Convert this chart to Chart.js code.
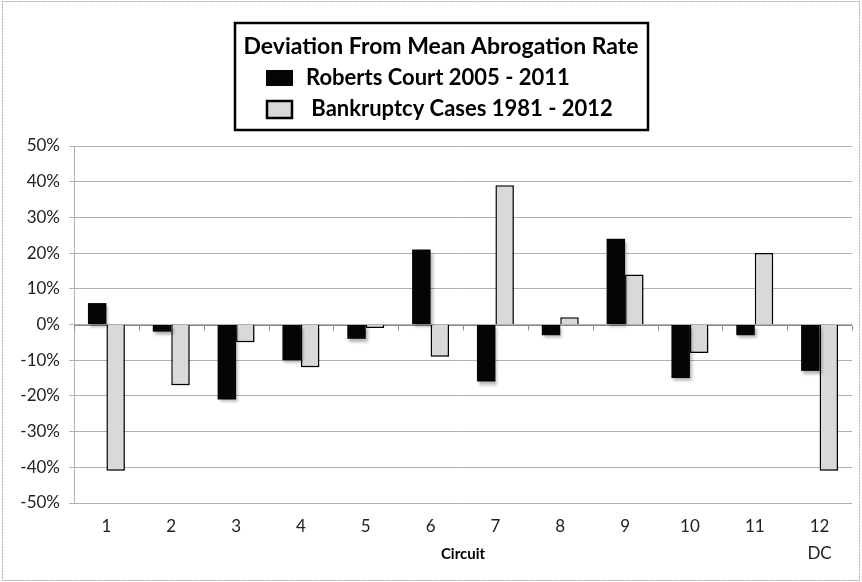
<!DOCTYPE html>
<html>
<head>
<meta charset="utf-8">
<script src="https://cdn.jsdelivr.net/npm/chart.js@4.4.1/dist/chart.umd.min.js"></script>
<style>
html, body { margin: 0; padding: 0; background: #fff; }
#wrap { width: 862px; height: 582px; position: relative; }
</style>
</head>
<body>
<div id="wrap"><canvas id="circuit_chart"></canvas></div>
<script>
// data (percent deviation from mean)
const circuit_labels = ['1', '2', '3', '4', '5', '6', '7', '8', '9', '10', '11', ['12', 'DC']];
const roberts_court = [6, -2, -21, -10, -4, 21, -16, -3, 24, -15, -3, -13];
const bankruptcy_cases = [-41, -17, -5, -12, -1, -9, 39, 2, 14, -8, 20, -41];
const series_names = ['Roberts Court 2005 - 2011', ' Bankruptcy Cases 1981 - 2012'];
const chart_title = 'Deviation From Mean Abrogation Rate';
const x_title = 'Circuit';

Chart.defaults.font.family = 'Lato, "Open Sans", sans-serif';
Chart.defaults.color = '#222';

// outer frame + boxed title/legend
const frame_and_legend = {
    id: 'frame_and_legend',
    afterDraw(chart) {
        let ctx = chart.ctx;
        ctx.save();
        // chart area frame
        ctx.strokeStyle = '#a8a8a8';
        ctx.lineWidth = 1;
        ctx.setLineDash([2, 1]);
        ctx.strokeRect(2.5, 1.5, chart.width - 5, chart.height - 3);
        ctx.setLineDash([]);
        // legend box
        ctx.fillStyle = '#fff';
        ctx.fillRect(235, 23, 413, 107);
        ctx.strokeStyle = '#000';
        ctx.lineWidth = 2.5;
        ctx.strokeRect(235, 23, 413, 107);
        ctx.fillStyle = '#000';
        ctx.textBaseline = 'middle';
        ctx.textAlign = 'center';
        ctx.font = 'bold 23px Lato';
        ctx.fillText(chart_title, 441, 47);
        ctx.textAlign = 'left';
        ctx.font = 'bold 22px Lato';
        let rows_y = [78, 109];
        chart.data.datasets.forEach(function (ds, i) {
            let y = rows_y[i];
            ctx.fillStyle = ds.backgroundColor;
            ctx.fillRect(266, y - 8, 27, 16);
            if (ds.borderWidth > 0) {
                ctx.strokeStyle = '#000';
                ctx.lineWidth = 2.5;
                ctx.strokeRect(267, y - 8, 25, 17);
            }
            ctx.fillStyle = '#000';
            ctx.fillText(ds.label, 306, y);
        });
        ctx.restore();
    }
};

// horizontal axis crossing at 0 with tick marks between categories
const zero_axis = {
    id: 'zero_axis',
    beforeDatasetsDraw(chart) {
        let ctx = chart.ctx;
        let xs = chart.scales.x;
        let y0 = Math.round(chart.scales.y.getPixelForValue(0)) + 0.5;
        ctx.save();
        ctx.strokeStyle = '#8a8a8a';
        ctx.lineWidth = 1;
        ctx.beginPath();
        ctx.moveTo(chart.chartArea.left, y0);
        ctx.lineTo(chart.chartArea.right, y0);
        let step = (chart.chartArea.right - chart.chartArea.left) / circuit_labels.length;
        for (let i = 0; i <= circuit_labels.length; i++) {
            let x = Math.round(xs.left + i * step) + 0.5;
            ctx.moveTo(x, y0);
            ctx.lineTo(x, y0 + 5);
        }
        ctx.stroke();
        ctx.restore();
        // soft shadow under the bars
        ctx.save();
        ctx.shadowColor = 'rgba(0,0,0,0.3)';
        ctx.shadowOffsetX = 2;
        ctx.shadowOffsetY = 3;
        ctx.shadowBlur = 3;
    },
    afterDatasetsDraw(chart) {
        chart.ctx.restore();
    }
};

let THE_CHART = new Chart(document.getElementById('circuit_chart'), {
    type: 'bar',
    data: {
        labels: circuit_labels,
        datasets: [
            {
                label: series_names[0],
                data: roberts_court,
                backgroundColor: '#050505',
                borderWidth: 0
            },
            {
                label: series_names[1],
                data: bankruptcy_cases,
                backgroundColor: '#d9d9d9',
                borderColor: '#000',
                borderWidth: 1.5
            }
        ]
    },
    options: {
        responsive: true,
        maintainAspectRatio: false,
        animation: false,
        layout: {padding: {top: 146, right: 10, bottom: 0, left: 0}},
        datasets: {bar: {barPercentage: 1, categoryPercentage: 0.57}},
        plugins: {
            legend: {display: false},
            title: {display: false},
            tooltip: {enabled: false}
        },
        scales: {
            x: {
                grid: {display: false, drawTicks: false},
                border: {display: false},
                ticks: {padding: 10, font: {size: 17, lineHeight: 1.6}, color: '#222', maxRotation: 0},
                title: {display: true, text: x_title, font: {size: 15, weight: 'bold'}, color: '#000', padding: {top: 0, bottom: 19}},
                afterFit: function (s) { s.height = 79; }
            },
            y: {
                min: -50,
                max: 50,
                grid: {color: '#b0b0b0', lineWidth: 1, tickLength: 5},
                border: {display: true, color: '#b0b0b0'},
                ticks: {
                    stepSize: 10,
                    padding: 9,
                    font: {size: 17},
                    color: '#222',
                    callback: function (v) { return v + '%'; }
                },
                afterFit: function (s) { s.width = 74; }
            }
        }
    },
    plugins: [zero_axis, frame_and_legend]
});
</script>
</body>
</html>
